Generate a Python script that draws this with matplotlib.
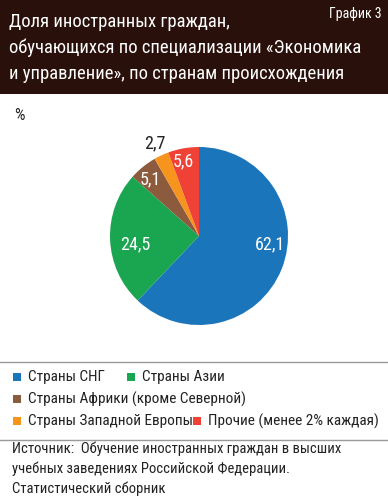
import matplotlib.pyplot as plt
from matplotlib.patches import Rectangle
from matplotlib.lines import Line2D

# данные
labels = ["Страны СНГ", "Страны Азии", "Страны Африки (кроме Северной)",
          "Страны Западной Европы", "Прочие (менее 2% каждая)"]
values = [62.1, 24.5, 5.1, 2.7, 5.6]
value_text = ["62,1", "24,5", "5,1", "2,7", "5,6"]
colors = ["#1b75bb", "#1aa551", "#8c5a3d", "#f7941e", "#ef4136"]

plt.rcParams['font.family'] = ['Roboto Condensed', 'PT Sans Narrow', 'DejaVu Sans']

W, H = 388, 500
fig = plt.figure(figsize=(W / 100, H / 100), dpi=100)
fig.patch.set_facecolor("white")

def px(x, y):
    return x / W, 1 - y / H

# шапка
fig.patches.append(Rectangle((0, 1 - 94 / H), 1, 94 / H, transform=fig.transFigure,
                             facecolor="#2a100b", edgecolor="none"))
title = ["Доля иностранных граждан,",
         "обучающихся по специализации «Экономика",
         "и управление», по странам происхождения"]
for i, t in enumerate(title):
    fig.text(*px(9, 22 + i * 26), t, color="white", fontsize=13.4, va="center", ha="left")
fig.text(*px(382, 14), "График 3", color="white", fontsize=10, va="center", ha="right")

fig.text(*px(14, 116), "%", fontsize=12, va="center", ha="left", color="#222222")

# круговая диаграмма
cx, cy, r = 199, 236, 89
ax = fig.add_axes([(cx - r) / W, 1 - (cy + r) / H, 2 * r / W, 2 * r / H])
wedges, _ = ax.pie(values, colors=colors, startangle=90, counterclock=False,
                   wedgeprops=dict(linewidth=0))
ax.set_aspect("equal")
ax.set_xlim(-1, 1)
ax.set_ylim(-1, 1)
ax.axis("off")

# подписи значений (позиции в единицах радиуса)
lab_pos = [(0.80, -0.09), (-0.72, -0.09), (-0.55, 0.64), (-0.5, 1.04), (-0.18, 0.84)]
lab_col = ["white", "white", "white", "#222222", "white"]
for (x, y), t, c in zip(lab_pos, value_text, lab_col):
    ax.text(x, y, t, color=c, fontsize=13, ha="center", va="center")

# легенда
for yy in (362, 440):
    fig.lines.append(Line2D([0, 1], [1 - yy / H] * 2, transform=fig.transFigure,
                            color="#9a9a9a", lw=1))
leg_pos = [(13, 377), (127, 377), (13, 399), (13, 421), (193, 421)]
for (x, y), l, c in zip(leg_pos, labels, colors):
    fig.patches.append(Rectangle(px(x, y + 4), 8 / W, 8 / H, transform=fig.transFigure,
                                 facecolor=c, edgecolor="none"))
    fig.text(*px(x + 15, y), l, fontsize=11, va="center", ha="left", color="#222222")

src = ["Источник:  Обучение иностранных граждан в высших",
       "учебных заведениях Российской Федерации.",
       "Статистический сборник"]
for i, t in enumerate(src):
    fig.text(*px(12, 449 + i * 20), t, fontsize=10.5, va="center", ha="left", color="#222222")

fig.savefig("out.png", dpi=100)
